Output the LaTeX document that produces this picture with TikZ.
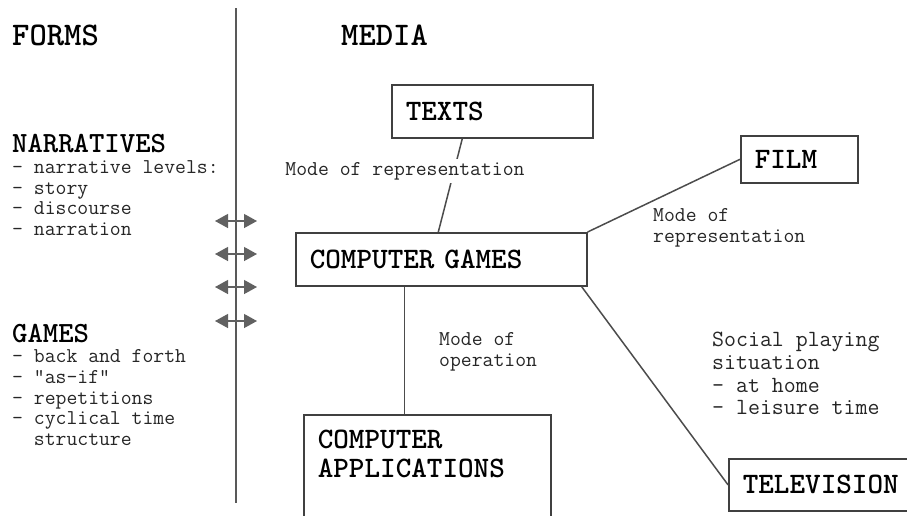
\documentclass[tikz,border=0pt]{standalone}
\usetikzlibrary{arrows.meta}

\begin{document}
\begin{tikzpicture}[x=1pt,y=-1pt,
    mediabox/.style={
            draw=black!75,line width=1.6pt,anchor=north west,
            inner xsep=14pt,inner ysep=0pt,align=left,
            font=\ttfamily\bfseries\fontsize{29.7}{29}\selectfont},
    heading/.style={anchor=base west,inner sep=0pt,
            font=\ttfamily\bfseries\fontsize{29.3}{29}\selectfont},
    note/.style={anchor=north west,inner sep=0pt,align=left,text=black!85,
            font=\ttfamily\fontsize{21.1}{20.7}\selectfont},
    link/.style={draw=black!70,line width=1.5pt},
    both/.style={{Triangle[length=13pt,width=14pt]}-{Triangle[length=13pt,width=14pt]},
            black!62,line width=1.3pt}]
\useasboundingbox (0,0) rectangle (907,515);

%FORMS=================================================================
\node[heading,font=\ttfamily\bfseries\fontsize{33}{33}\selectfont] (forms) at (12,45) {FORMS};
\node[heading] (narr) at (12,152) {NARRATIVES};
\node[note] (narrlist) at (12,160.5) {- narrative levels:\\- story\\- discourse\\- narration};
\node[heading] (games) at (12,342) {GAMES};
\node[note] (gamelist) at (12,349.5) {- back and forth\\- “as-if”\\- repetitions\\- cyclical time\\\ \ structure};

%divider and the four double arrows across it
\coordinate (top) at (236,8);
\coordinate (bottom) at (236,503);
\draw[black!65,line width=2pt] (top)--(bottom);

\coordinate (l1) at (215,221); \coordinate (r1) at (257,221);
\coordinate (l2) at (215,254); \coordinate (r2) at (257,254);
\coordinate (l3) at (215,287); \coordinate (r3) at (257,287);
\coordinate (l4) at (215,321); \coordinate (r4) at (257,321);
\draw[both] (l1)--(r1);
\draw[both] (l2)--(r2);
\draw[both] (l3)--(r3);
\draw[both] (l4)--(r4);
%=======================================================================

%MEDIA=================================================================
\node[heading,font=\ttfamily\bfseries\fontsize{33}{33}\selectfont] (media) at (341,45) {MEDIA};

\node[mediabox,text width=173pt,minimum height=53pt] (texts) at (391,84) {TEXTS};
\node[mediabox,text width=263pt,minimum height=53pt] (cg) at (295,232) {COMPUTER GAMES};
\node[mediabox,text width=89pt,minimum height=47pt] (film) at (740,135) {FILM};
\node[mediabox,text width=219pt,minimum height=135pt] (apps) at (303,414) {COMPUTER\\APPLICATIONS\\\phantom{A}\\\phantom{A}};
\node[mediabox,text width=162pt,minimum height=52pt] (tv) at (728,458) {TELEVISION};

\draw[link] ([xshift=-30pt]texts.south)--([xshift=-3pt]cg.north);
\node[note,anchor=center,fill=white,inner sep=3pt] (replabel) at (405,171) {Mode of representation};

\draw[link] (cg.north east)--(film.west);
\node[note] (filmlabel) at (653,208.5) {Mode of\\representation};

\draw[link] ([xshift=-37pt]cg.south) coordinate (optop)--(optop |- apps.north);
\node[note] (oplabel) at (439,332.5) {Mode of\\operation};

\draw[link] ([xshift=-6pt]cg.south east)--(tv.west);
\node[note,font=\ttfamily\fontsize{23.2}{22.7}\selectfont] (social) at (712,332) {Social playing\\situation\\- at home\\- leisure time};
%=======================================================================

\end{tikzpicture}
\end{document}
